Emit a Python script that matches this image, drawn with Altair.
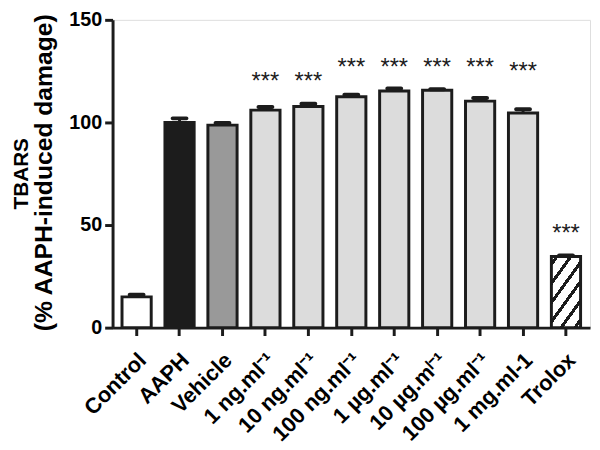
import altair as alt
import pandas as pd

categories = ["Control", "AAPH", "Vehicle", "1 ng.ml⁻¹", "10 ng.ml⁻¹", "100 ng.ml⁻¹",
              "1 µg.ml⁻¹", "10 µg.mˡ⁻¹", "100 µg.ml⁻¹", "1 mg.ml-1", "Trolox"]
values = [15.0, 100.0, 98.7, 106.0, 107.8, 112.5, 115.3, 115.7, 110.4, 104.6, 34.7]
errors = [1.0, 2.0, 1.0, 1.5, 1.3, 1.0, 1.3, 0.5, 1.5, 1.8, 0.5]
fills = ["#ffffff", "#1c1c1c", "#999999", "#dcdcdc", "#dcdcdc", "#dcdcdc",
         "#dcdcdc", "#dcdcdc", "#dcdcdc", "#dcdcdc", "#ffffff"]
sig = ["", "", "", "***", "***", "***", "***", "***", "***", "***", "***"]
sig_level = [None, None, None, 122.7, 122.7, 129.3, 129.3, 129.3, 129.3, 127.4, 48.6]

df = pd.DataFrame({"cat": categories, "value": values, "err": errors,
                   "fill": fills, "sig": sig, "sig_y": sig_level})
df["upper"] = df["value"] + df["err"]

FONT = "Liberation Sans"
INK = "#1c1c1c"

xenc = alt.X("cat:N", sort=categories, title=None,
             scale=alt.Scale(paddingInner=0.32, paddingOuter=0.22),
             axis=alt.Axis(labelAngle=-45, labelFont=FONT, labelFontSize=22,
                           labelFontWeight="bold", labelColor="#000000",
                           domainColor=INK, domainWidth=3, tickColor=INK,
                           tickWidth=3, tickSize=8, labelPadding=21, labelOffset=6,
                           labelAlign="right", labelBaseline="middle"))
yenc = alt.Y("value:Q", title=None,
             scale=alt.Scale(domain=[0, 150], nice=False),
             axis=alt.Axis(values=[0, 50, 100, 150], labelFont=FONT, labelFontSize=20,
                           labelFontWeight="bold", labelColor="#000000",
                           domainColor=INK, domainWidth=3, tickColor=INK,
                           tickWidth=3, tickSize=8, labelPadding=3, grid=False))

base = alt.Chart(df)

bars = base.transform_filter(alt.datum.cat != "Trolox").mark_bar(
    stroke=INK, strokeWidth=3).encode(
    x=xenc, y=yenc, fill=alt.Fill("fill:N", scale=None))

# hatched Trolox bar: diagonal stripes via hard-stop gradient
stops = [{"offset": 0.0, "color": "#ffffff"}]
period = 0.172
half = 0.024
c = 0.07
while c < 1.0:
    lo = max(0.0, c - half)
    hi = min(1.0, c + half)
    stops += [{"offset": lo, "color": "#ffffff"}, {"offset": lo, "color": INK},
              {"offset": hi, "color": INK}, {"offset": hi, "color": "#ffffff"}]
    c += period
stops.append({"offset": 1.0, "color": "#ffffff"})
hatch = alt.Gradient(gradient="linear", stops=stops, x1=0, y1=0, x2=0.673, y2=1.186)

trolox = base.transform_filter(alt.datum.cat == "Trolox").mark_bar(
    stroke=INK, strokeWidth=3, fill=hatch).encode(x=xenc, y=yenc)

err_rule = base.mark_rule(color=INK, strokeWidth=3).encode(
    x=alt.X("cat:N", sort=categories), y="value:Q", y2="upper:Q")
caps = base.mark_tick(color=INK, thickness=4, size=18, cornerRadius=2, opacity=1).encode(
    x=alt.X("cat:N", sort=categories), y="upper:Q")

stars = base.transform_filter(alt.datum.sig != "").mark_text(
    font=FONT, fontSize=24, color=INK, baseline="alphabetic", dy=13).encode(
    x=alt.X("cat:N", sort=categories), y="sig_y:Q", text="sig:N")

t1 = alt.Chart(pd.DataFrame({"t": ["TBARS"]})).mark_text(
    font=FONT, fontSize=21, fontWeight="bold", angle=270, color="#000000",
    align="center", baseline="alphabetic").encode(
    text="t:N", x=alt.value(-86), y=alt.value(156))
t2 = alt.Chart(pd.DataFrame({"t": ["(% AAPH-induced damage)"]})).mark_text(
    font=FONT, fontSize=25, fontWeight="bold", angle=270, color="#000000",
    align="center", baseline="alphabetic").encode(
    text="t:N", x=alt.value(-61), y=alt.value(155))

chart = alt.layer(bars, trolox, err_rule, caps, stars, t1, t2).properties(
    width=484, height=312,
    autosize=alt.AutoSizeParams(type="none"),
    padding={"left": 106, "top": 9, "right": 2, "bottom": 120},
).configure_view(stroke=None).configure(background="#ffffff")

chart.save("out.html", embed_options={"renderer": "svg", "actions": False})
